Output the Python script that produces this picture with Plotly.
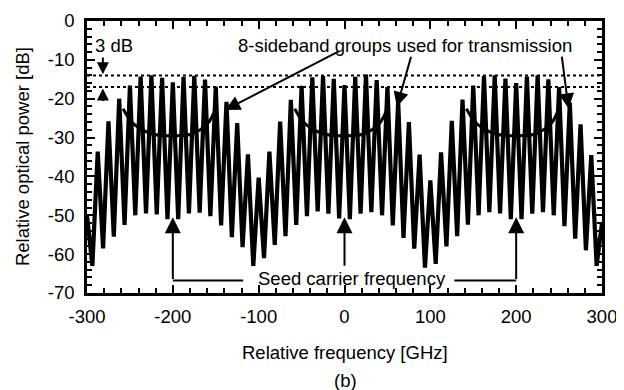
import plotly.graph_objects as go

# ---------------- data ----------------
peak_freq = [-300, -287.5, -275, -262.5, -250, -237.5, -225, -212.5, -200,
             -187.5, -175, -162.5, -150, -137.5, -125, -112.5, -100,
             -87.5, -75, -62.5, -50, -37.5, -25, -12.5, 0,
             12.5, 25, 37.5, 50, 62.5, 75, 87.5, 100,
             112.5, 125, 137.5, 150, 162.5, 175, 187.5, 200,
             212.5, 225, 237.5, 250, 262.5, 275, 287.5, 300]
peak_db = [-50, -33.6, -25.8, -20.0, -16.6, -14.3, -14.0, -14.6, -15.8,
           -14.4, -14.1, -15.1, -16.9, -20.8, -26.3, -34.3, -40.3,
           -33.6, -25.9, -20.3, -16.7, -14.5, -14.2, -14.9, -16.5,
           -14.4, -13.8, -15.2, -17.0, -20.6, -26.0, -34.4, -41.0,
           -33.8, -25.7, -20.2, -16.6, -14.2, -14.0, -14.8, -16.0,
           -14.3, -14.0, -15.0, -17.0, -21.0, -26.6, -34.5, -52]

valley_freq = [-293.75, -281.25, -268.75, -256.25, -243.75, -231.25, -218.75, -206.25,
               -193.75, -181.25, -168.75, -156.25, -143.75, -131.25, -118.75, -106.25,
               -93.75, -81.25, -68.75, -56.25, -43.75, -31.25, -18.75, -6.25,
               6.25, 18.75, 31.25, 43.75, 56.25, 68.75, 81.25, 93.75,
               106.25, 118.75, 131.25, 143.75, 156.25, 168.75, 181.25, 193.75,
               206.25, 218.75, 231.25, 243.75, 256.25, 268.75, 281.25, 293.75]
valley_db = [-63.0, -58.5, -55.5, -52.5, -50.0, -49.5, -49.8, -51.0,
             -51.0, -49.5, -49.3, -50.2, -52.6, -55.6, -58.2, -63.0,
             -61.0, -57.6, -55.4, -52.5, -50.2, -49.0, -49.6, -50.8,
             -51.0, -49.6, -49.2, -50.0, -52.6, -55.8, -58.6, -63.5,
             -62.5, -58.0, -55.4, -52.4, -50.0, -49.2, -49.5, -51.0,
             -51.0, -49.6, -49.2, -50.0, -52.8, -56.0, -59.0, -63.0]

seed_carriers = [-200, 0, 200]
arc_offset = [-58, -48, -38, -25, -10, 5, 20, 32, 42, 49]
arc_db = [-22.6, -26.0, -27.7, -29.0, -29.5, -29.5, -29.2, -28.0, -26.0, -23.0]

level_lines_db = [-14, -17]

x_ticks = [-300, -200, -100, 0, 100, 200, 300]
y_ticks = [0, -10, -20, -30, -40, -50, -60, -70]

FONT = "Liberation Sans, Arial, sans-serif"
FS = 18.5

# ---------------- build figure ----------------
pts = sorted(list(zip(peak_freq, peak_db)) + list(zip(valley_freq, valley_db)))
spec_x = [p[0] for p in pts]
spec_y = [p[1] for p in pts]

fig = go.Figure()

for lv in level_lines_db:
    fig.add_trace(go.Scatter(x=[-300, 300], y=[lv, lv], mode="lines",
                             line=dict(color="black", width=2, dash="dot"),
                             hoverinfo="skip", showlegend=False))

fig.add_trace(go.Scatter(x=spec_x, y=spec_y, mode="lines",
                         line=dict(color="black", width=4.2),
                         showlegend=False))

for c in seed_carriers:
    fig.add_trace(go.Scatter(x=[c + d for d in arc_offset], y=arc_db, mode="lines",
                             line=dict(color="black", width=3, shape="spline"),
                             hoverinfo="skip", showlegend=False))

ann = []
# sideband group label + arrows
ann.append(dict(x=70, y=-6.4, xref="x", yref="y", xanchor="center", yanchor="middle",
                text="8-sideband groups used for transmission",
                showarrow=False, font=dict(family=FONT, size=FS, color="black")))
for (tx, ty, hx, hy) in [(-5, -7.6, -139, -22.9), (78, -8.8, 61, -22.1), (253, -8.8, 261, -22.5)]:
    ann.append(dict(x=hx, y=hy, ax=tx, ay=ty, xref="x", yref="y", axref="x", ayref="y",
                    text="", showarrow=True, arrowhead=2, arrowsize=1.5, arrowwidth=2,
                    arrowcolor="black", standoff=0))
# 3 dB label and arrows
ann.append(dict(x=-268, y=-6.4, xref="x", yref="y", xanchor="center", yanchor="middle",
                text="3 dB", showarrow=False,
                font=dict(family=FONT, size=FS, color="black")))
ann.append(dict(x=-281.5, y=-13.7, ax=-281.5, ay=-9.0, xref="x", yref="y", axref="x", ayref="y",
                text="", showarrow=True, arrowhead=2, arrowsize=1.2, arrowwidth=2,
                arrowcolor="black", standoff=0))
ann.append(dict(x=-281.5, y=-17.4, ax=-281.5, ay=-21.0, xref="x", yref="y", axref="x", ayref="y",
                text="", showarrow=True, arrowhead=2, arrowsize=1.2, arrowwidth=2,
                arrowcolor="black", standoff=0))
# seed carrier label + arrows
ann.append(dict(x=9, y=-66.3, xref="x", yref="y", xanchor="center", yanchor="middle",
                text="Seed carrier frequency", showarrow=False,
                font=dict(family=FONT, size=FS, color="black")))
for c in seed_carriers:
    tail = -63.4 if c == 0 else -66.8
    ann.append(dict(x=c, y=-50.5, ax=c, ay=tail, xref="x", yref="y", axref="x", ayref="y",
                    text="", showarrow=True, arrowhead=2, arrowsize=1.6, arrowwidth=2,
                    arrowcolor="black", standoff=0))
# axis titles and panel label
ann.append(dict(x=0.501, y=-0.217, xref="paper", yref="paper", xanchor="center", yanchor="middle",
                text="Relative frequency [GHz]",
                showarrow=False, font=dict(family=FONT, size=FS, color="black")))
ann.append(dict(x=-0.126, y=0.5, xref="paper", yref="paper", xanchor="center", yanchor="middle",
                text="Relative optical power [dB]",
                textangle=-90, showarrow=False, font=dict(family=FONT, size=FS, color="black")))
ann.append(dict(x=0.501, y=-0.3235, xref="paper", yref="paper", xanchor="center", yanchor="middle",
                text="(b)",
                showarrow=False, font=dict(family=FONT, size=FS, color="black")))

shapes = [
    dict(type="line", xref="x", yref="y", x0=-200, x1=-118, y0=-66.8, y1=-66.8,
         line=dict(color="black", width=2)),
    dict(type="line", xref="x", yref="y", x0=128, x1=200, y0=-66.8, y1=-66.8,
         line=dict(color="black", width=2)),
]

axis_common = dict(showline=True, linecolor="black", linewidth=2.5, mirror="allticks",
                   ticks="inside", ticklen=8, tickwidth=2, tickcolor="black",
                   showgrid=False, zeroline=False,
                   tickfont=dict(family=FONT, size=FS, color="black"))

# the page body adds an 8 px offset, so the figure is 616x382 placed at (8, 8)
fig.update_layout(
    width=616, height=382,
    margin=dict(l=79, r=22, t=13, b=97, autoexpand=False),
    paper_bgcolor="white", plot_bgcolor="white",
    showlegend=False,
    annotations=ann, shapes=shapes,
    xaxis=dict(range=[-300, 300], tickvals=x_ticks, ticktext=[str(v) for v in x_ticks],
               minor=dict(ticks="inside", ticklen=5, tickwidth=2, tickcolor="black", dtick=20),
               ticklabelstandoff=5, automargin=False, **axis_common),
    yaxis=dict(range=[-70, 0], tickvals=y_ticks, ticktext=[str(v) for v in y_ticks],
               minor=dict(ticks="inside", ticklen=5, tickwidth=2, tickcolor="black", dtick=2),
               ticklabelstandoff=6, automargin=False, **axis_common),
)

fig.write_html("out.html")
